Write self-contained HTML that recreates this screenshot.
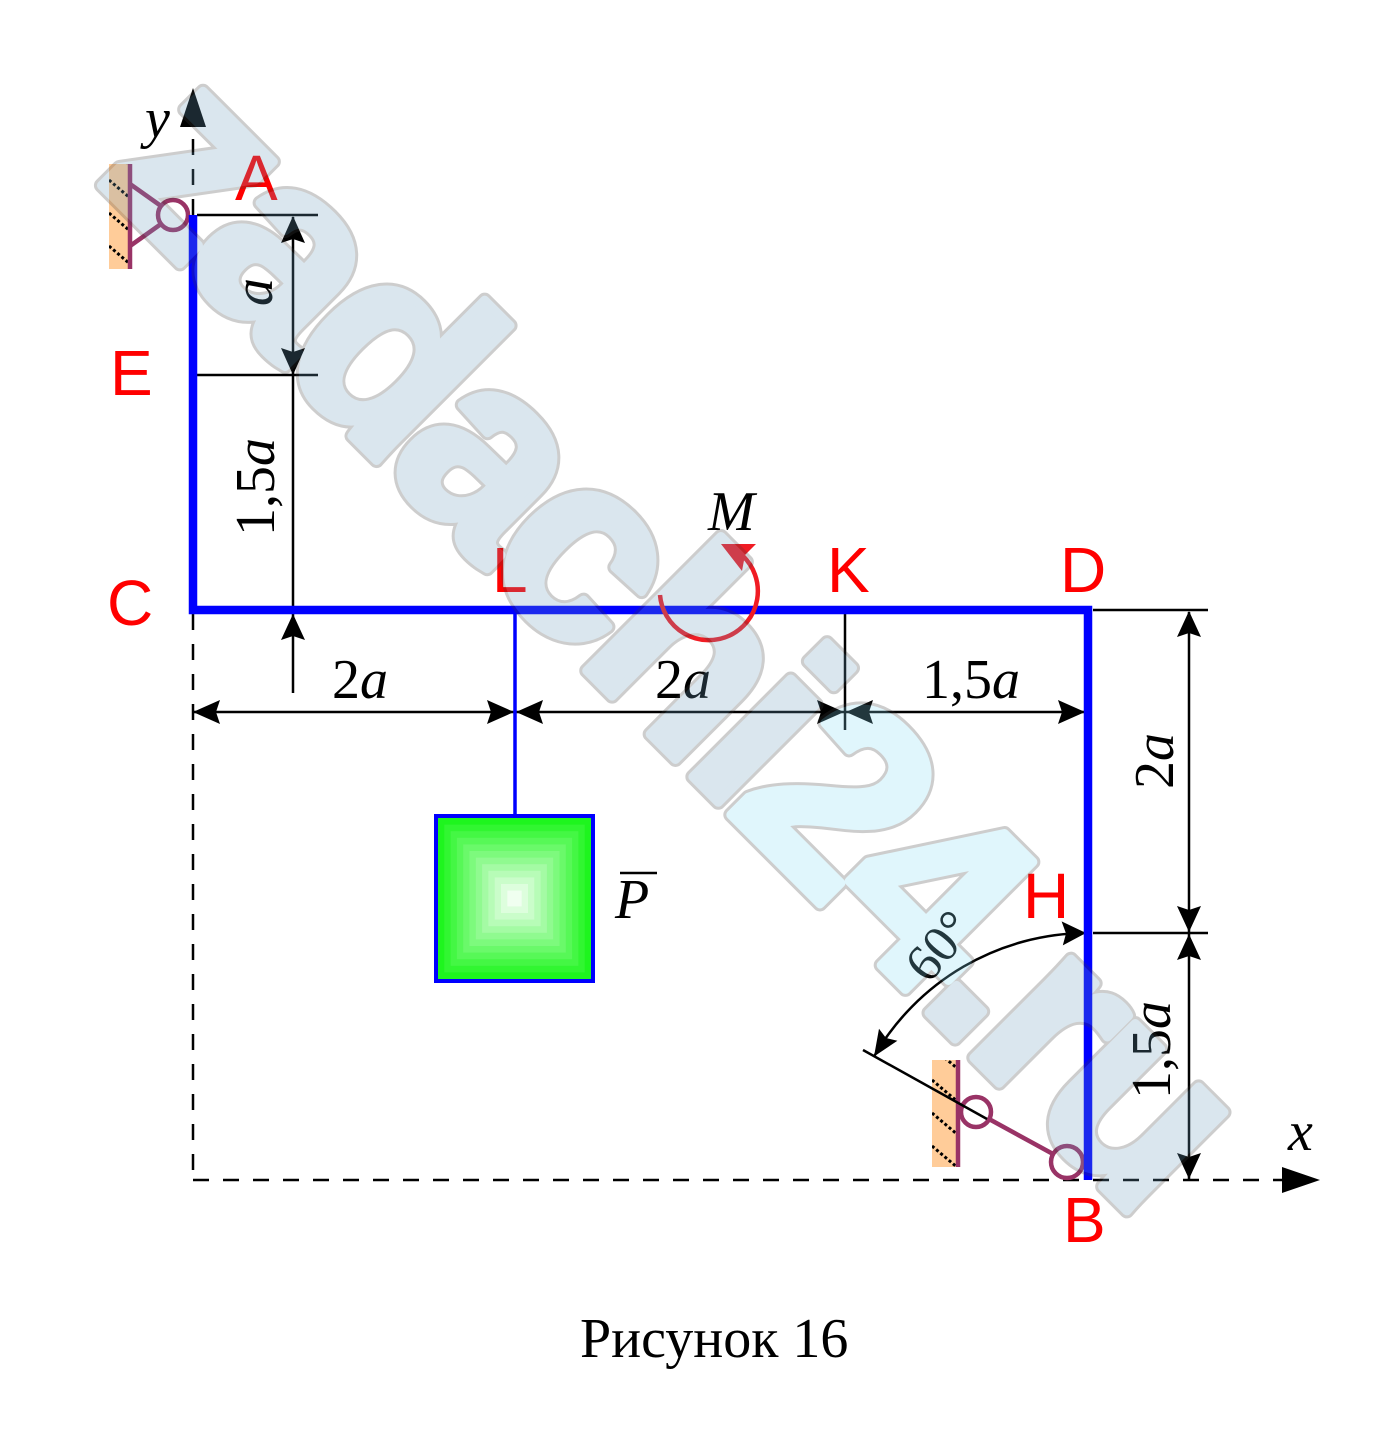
<!DOCTYPE html>
<html><head><meta charset="utf-8"><style>
html,body{margin:0;padding:0;background:#fff;}
svg{display:block;}
</style></head><body>
<svg width="1395" height="1447" viewBox="0 0 1395 1447" xmlns="http://www.w3.org/2000/svg">
<rect width="1395" height="1447" fill="#fff"/>

<!-- dashed axes -->
<g stroke="#000" stroke-width="2.5" stroke-dasharray="16 14" fill="none">
<line x1="193" y1="215" x2="193" y2="127"/>
<line x1="193" y1="614" x2="193" y2="1180"/>
<line x1="193" y1="1180" x2="1285" y2="1180"/>
</g>
<polygon points="193,88 180,127 206,127" fill="#000"/>
<polygon points="1320,1180 1282,1167 1282,1193" fill="#000"/>

<!-- dimension lines -->
<g stroke="#000" stroke-width="2.5" fill="none">
<line x1="197" y1="215" x2="318" y2="215"/>
<line x1="197" y1="375" x2="318" y2="375"/>
<line x1="293" y1="217" x2="293" y2="610"/>
<line x1="293" y1="614" x2="293" y2="693"/>
<line x1="193" y1="712" x2="1088" y2="712"/>
<line x1="845" y1="614" x2="845" y2="730"/>
<line x1="1093" y1="610" x2="1208" y2="610"/>
<line x1="1093" y1="933" x2="1208" y2="933"/>
<line x1="1189" y1="612" x2="1189" y2="1180"/>
<path d="M874,1056.5 A247,247 0 0 1 1086,933"/>
</g>
<g fill="#000">
<polygon points="293,216 281,243 293,239 305,243"/>
<polygon points="293,375 281,348 293,352 305,348"/>
<polygon points="293,614 281,640 293,636 305,640"/>
<polygon points="193,712 220,700 216,712 220,724"/>
<polygon points="514,712 487,700 491,712 487,724"/>
<polygon points="516,712 543,700 539,712 543,724"/>
<polygon points="844,712 817,700 821,712 817,724"/>
<polygon points="846,712 873,700 869,712 873,724"/>
<polygon points="1085,712 1058,700 1062,712 1058,724"/>
<polygon points="1189,611 1177,637 1189,633 1201,637"/>
<polygon points="1189,932 1177,906 1189,910 1201,906"/>
<polygon points="1189,934 1177,960 1189,956 1201,960"/>
<polygon points="1189,1179 1177,1153 1189,1157 1201,1153"/>
<polygon points="1086,933 1062.8,945.4 1066,933.5 1061.6,921.4"/>
<polygon points="874,1056.5 897.4,1040.8 886,1038 879,1028.8"/>
</g>

<!-- support A -->
<defs>
<clipPath id="ca"><rect x="109" y="164" width="21" height="105"/></clipPath>
<clipPath id="cb"><rect x="932" y="1060" width="26" height="107"/></clipPath>
</defs>
<rect x="109" y="164" width="21" height="105" fill="#ffcc99"/>
<g clip-path="url(#ca)" stroke="#000" stroke-width="3" stroke-dasharray="3 2.5">
<line x1="109" y1="147" x2="130" y2="165"/>
<line x1="109" y1="180" x2="130" y2="198"/>
<line x1="109" y1="213" x2="130" y2="231"/>
<line x1="109" y1="246" x2="130" y2="264"/>
</g>
<g stroke="#993366" stroke-width="4.5" fill="none">
<line x1="130" y1="164" x2="130" y2="269"/>
<line x1="130" y1="184" x2="161" y2="206"/>
<line x1="130" y1="246" x2="161" y2="224"/>
<circle cx="173" cy="215" r="15" fill="#fff"/>
</g>

<!-- support B -->
<rect x="932" y="1060" width="26" height="107" fill="#ffcc99"/>
<g clip-path="url(#cb)" stroke="#000" stroke-width="3" stroke-dasharray="3 2.5">
<line x1="932" y1="1047" x2="958" y2="1069"/>
<line x1="932" y1="1080" x2="958" y2="1102"/>
<line x1="932" y1="1113" x2="958" y2="1135"/>
<line x1="932" y1="1146" x2="958" y2="1168"/>
</g>
<g stroke="#993366" stroke-width="4.5" fill="none">
<line x1="958" y1="1060" x2="958" y2="1167"/>
<line x1="989" y1="1119" x2="1053" y2="1154"/>
<circle cx="976" cy="1112" r="15" fill="#fff"/>
<circle cx="1067" cy="1162" r="16"/>
</g>
<line x1="863" y1="1050" x2="987" y2="1119" stroke="#000" stroke-width="2.5"/>

<!-- frame -->
<path d="M193,215 L193,610 L1088,610 L1088,1180" stroke="#0000ff" stroke-width="8.5" fill="none" stroke-linejoin="miter"/>
<line x1="515" y1="610" x2="515" y2="816" stroke="#0000ff" stroke-width="3.5"/>

<!-- weight -->
<rect x="438" y="818" width="153" height="161" fill="rgb(30,245,30)"/>
<rect x="444.3" y="824.6" width="140.4" height="147.8" fill="rgb(49,246,49)"/>
<rect x="450.6" y="831.2" width="127.8" height="134.6" fill="rgb(68,247,68)"/>
<rect x="456.9" y="837.8" width="115.2" height="121.4" fill="rgb(87,248,87)"/>
<rect x="463.2" y="844.4" width="102.6" height="108.2" fill="rgb(106,249,106)"/>
<rect x="469.5" y="851" width="90" height="95" fill="rgb(125,250,125)"/>
<rect x="475.8" y="857.6" width="77.4" height="81.8" fill="rgb(144,250,144)"/>
<rect x="482.1" y="864.2" width="64.8" height="68.6" fill="rgb(164,251,164)"/>
<rect x="488.4" y="870.8" width="52.2" height="55.4" fill="rgb(183,252,183)"/>
<rect x="494.7" y="877.4" width="39.6" height="42.2" fill="rgb(202,253,202)"/>
<rect x="501" y="884" width="27" height="29" fill="rgb(221,254,221)"/>
<rect x="507.3" y="890.6" width="14.4" height="15.8" fill="rgb(240,255,240)"/>
<rect x="436" y="816" width="157" height="165" fill="none" stroke="#0000ff" stroke-width="4"/>

<!-- moment -->
<path d="M660,595 A49,49 0 1 0 743,556" stroke="#f01c24" stroke-width="4.5" fill="none"/>
<polygon points="721,544 756,544 745,555 742,571" fill="#f01c24"/>

<!-- labels -->
<g font-family="'Liberation Sans', sans-serif" font-size="64" fill="#ff0000">
<text x="235" y="200">A</text>
<text x="110" y="395">E</text>
<text x="107" y="625">C</text>
<text x="492" y="592">L</text>
<text x="827" y="592">K</text>
<text x="1060" y="592">D</text>
<text x="1023" y="918">H</text>
<text x="1063" y="1242">B</text>
</g>

<g font-family="'Liberation Serif', serif" font-size="56" fill="#000">
<text x="145" y="137" font-style="italic">y</text>
<text x="1288" y="1150" font-style="italic">x</text>
<text x="708" y="530" font-style="italic">M</text>
<text x="615" y="918" font-style="italic">P</text>
<line x1="620" y1="873" x2="657" y2="873" stroke="#000" stroke-width="2.5"/>
<text x="360" y="698" text-anchor="middle">2<tspan font-style="italic">a</tspan></text>
<text x="683" y="698" text-anchor="middle">2<tspan font-style="italic">a</tspan></text>
<text x="971" y="698" text-anchor="middle">1,5<tspan font-style="italic">a</tspan></text>
<text transform="translate(272,292) rotate(-90)" text-anchor="middle" font-style="italic">a</text>
<text transform="translate(274,487) rotate(-90)" text-anchor="middle">1,5<tspan font-style="italic">a</tspan></text>
<text transform="translate(1173,761) rotate(-90)" text-anchor="middle">2<tspan font-style="italic">a</tspan></text>
<text transform="translate(1170,1050) rotate(-90)" text-anchor="middle">1,5<tspan font-style="italic">a</tspan></text>
<text transform="translate(952,957) rotate(-50)" text-anchor="middle" font-size="52">60°</text>
<text x="580" y="1357">Рисунок 16</text>
</g>

<!-- watermark -->
<g opacity="0.25" font-family="'Liberation Sans', sans-serif" font-weight="bold" font-size="262" transform="translate(94,178) rotate(45)">
<text x="0" y="0" textLength="1478" lengthAdjust="spacing" fill="#3c3c3c" stroke="#3c3c3c" stroke-width="15" stroke-linejoin="round">zadachi24.ru</text>
<text x="0" y="0" textLength="1478" lengthAdjust="spacing" fill="rgb(110,160,190)" stroke="rgb(110,160,190)" stroke-width="9" stroke-linejoin="round">zadachi<tspan fill="rgb(136,220,244)" stroke="rgb(136,220,244)">24</tspan>.ru</text>
</g>
</svg>
</body></html>
